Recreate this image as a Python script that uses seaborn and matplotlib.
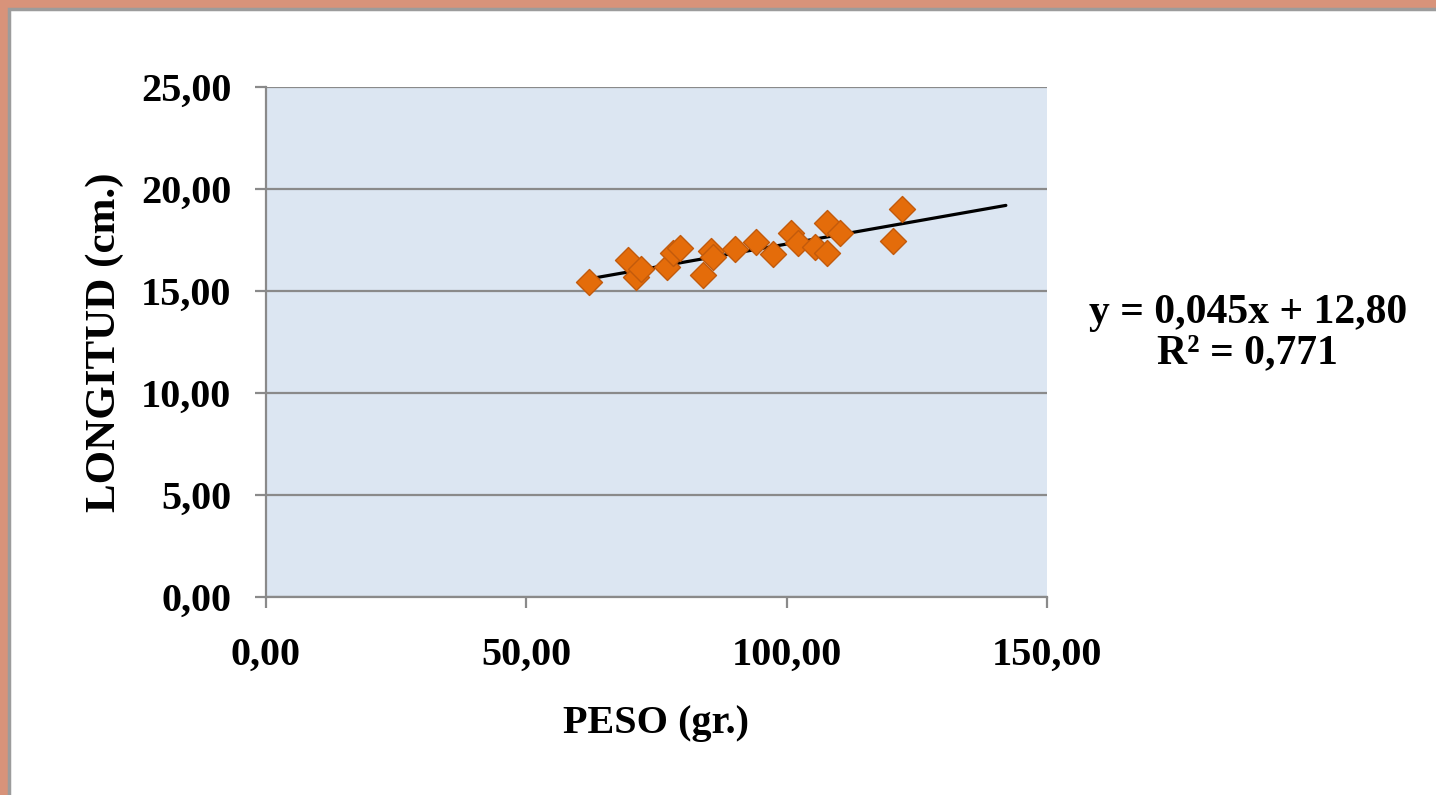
import numpy as np
import pandas as pd
import seaborn as sns
import matplotlib.pyplot as plt
from matplotlib.patches import Rectangle
from matplotlib.ticker import FuncFormatter

# data
peso = [62.1, 69.6, 71.1, 72.1, 77.0, 78.2, 79.6, 83.9, 85.4, 85.8, 90.1,
        94.1, 97.4, 100.9, 102.2, 105.4, 107.7, 107.7, 110.2, 120.4, 122.1]
longitud = [15.46, 16.52, 15.70, 16.06, 16.16, 16.85, 17.09, 15.78, 16.98, 16.65, 17.04,
            17.42, 16.81, 17.86, 17.34, 17.17, 18.32, 16.88, 17.86, 17.47, 19.00]

# trend line as shown by the chart (forecast forward 20 units)
trend_slope = 0.045
trend_intercept = 12.80
trend_r2 = 0.771
trend_forward = 20

x_ticks = [0, 50, 100, 150]
y_ticks = [0, 5, 10, 15, 20, 25]

df = pd.DataFrame({'peso': peso, 'longitud': longitud})
trend_x = np.array([min(peso), max(peso) + trend_forward])
trend = pd.DataFrame({'x': trend_x, 'y': trend_slope * trend_x + trend_intercept})

sns.set_theme(style='white')
plt.rcParams['font.family'] = ['Liberation Serif', 'DejaVu Serif']
plt.rcParams['font.weight'] = 'bold'
plt.rcParams['text.color'] = 'black'

fs = 29

fig = plt.figure(figsize=(14.36, 7.95), dpi=100)
fig.patch.set_facecolor('#D8937A')
# white chart panel with a grey frame
fig.patches.append(Rectangle((0.0065, -0.01), 1.0, 0.999, transform=fig.transFigure,
                             facecolor='white', edgecolor='#9C9C9C', linewidth=2.5, zorder=-1))

ax = fig.add_axes([0.1852, 0.2491, 0.7291 - 0.1852, 0.8906 - 0.2491])
ax.set_facecolor('#DCE6F2')

sns.lineplot(data=trend, x='x', y='y', color='black', linewidth=2.3, ax=ax, zorder=3)
sns.scatterplot(data=df, x='peso', y='longitud', marker='D', s=175, color='#E46C0A',
                edgecolor='#C25A0C', linewidth=1, ax=ax, zorder=4)

ax.set_xlim(0, 150)
ax.set_ylim(0, 25)
ax.set_xticks(x_ticks)
ax.set_yticks(y_ticks)
fmt = FuncFormatter(lambda v, p: '{:.2f}'.format(v).replace('.', ','))
ax.xaxis.set_major_formatter(fmt)
ax.yaxis.set_major_formatter(fmt)

ax.grid(axis='y', color='#8A8A8A', linewidth=1.6)
ax.set_axisbelow(True)
for side in ['top', 'right']:
    ax.spines[side].set_visible(False)
for side in ['left', 'bottom']:
    ax.spines[side].set_color('#8A8A8A')
    ax.spines[side].set_linewidth(1.6)

ax.tick_params(axis='both', which='major', direction='out', length=8, width=1.6,
               color='#8A8A8A', labelsize=fs, labelcolor='black')
ax.tick_params(axis='y', left=True, pad=17)
ax.tick_params(axis='x', bottom=True, pad=21)
for lab in ax.get_xticklabels() + ax.get_yticklabels():
    lab.set_fontweight('bold')

ax.set_xlabel('PESO (gr.)', fontsize=fs, fontweight='bold', labelpad=22, color='black')
ax.set_ylabel('LONGITUD (cm.)', fontsize=31, fontweight='bold', labelpad=12, color='black')

eq = 'y = {}x + {}\nR² = {}'.format(str(trend_slope).replace('.', ','),
                                     '{:.2f}'.format(trend_intercept).replace('.', ','),
                                     str(trend_r2).replace('.', ','))
fig.text(0.869, 0.581, eq, ha='center', va='center', fontsize=30, fontweight='bold',
         linespacing=1.1, color='black')

fig.savefig('out.png', dpi=100, facecolor=fig.get_facecolor())
